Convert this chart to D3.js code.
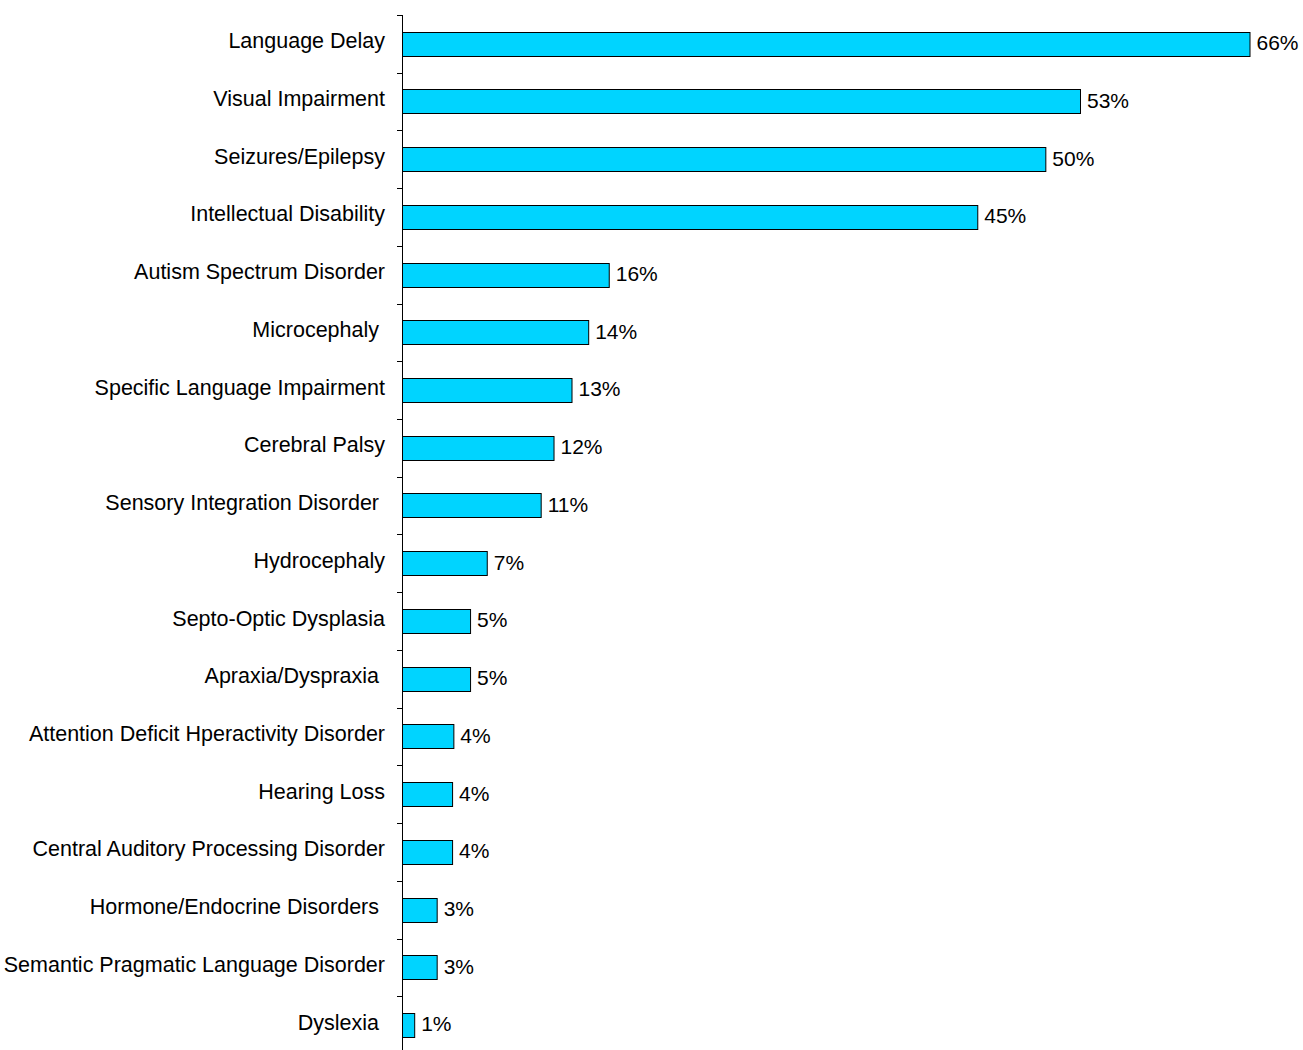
<!DOCTYPE html>
<html>
<head>
<meta charset="utf-8">
<script src="https://cdn.jsdelivr.net/npm/d3@7"></script>
<style>
  html, body { margin: 0; padding: 0; background: #fff; }
  text { font-family: "Liberation Sans", Arial, sans-serif; white-space: pre; }
</style>
</head>
<body>
<div id="chart"></div>
<script>
// categories as written on the original (some carry a trailing space)
const categories = [
  "Language Delay",
  "Visual Impairment",
  "Seizures/Epilepsy",
  "Intellectual Disability",
  "Autism Spectrum Disorder",
  "Microcephaly ",
  "Specific Language Impairment",
  "Cerebral Palsy",
  "Sensory Integration Disorder ",
  "Hydrocephaly",
  "Septo-Optic Dysplasia",
  "Apraxia/Dyspraxia ",
  "Attention Deficit Hperactivity Disorder",
  "Hearing Loss",
  "Central Auditory Processing Disorder",
  "Hormone/Endocrine Disorders ",
  "Semantic Pragmatic Language Disorder",
  "Dyslexia "
];
// percent values
const values = [66.0, 52.8, 50.1, 44.8, 16.1, 14.5, 13.2, 11.8, 10.8, 6.6, 5.3, 5.3, 4.0, 3.9, 3.9, 2.7, 2.7, 0.95];
// printed labels
const labels = ["66%", "53%", "50%", "45%", "16%", "14%", "13%", "12%", "11%", "7%", "5%", "5%", "4%", "4%", "4%", "3%", "3%", "1%"];

const width = 1303, height = 1050;
const axisX = 402, plotTop = 15, step = 57.72;

const svg = d3.select("#chart").append("svg")
  .attr("width", width)
  .attr("height", height);

const x = d3.scaleLinear().domain([0, 66]).range([axisX, 1249.5]);
const y = d3.scaleBand()
  .domain(categories)
  .range([plotTop, plotTop + step * categories.length])
  .paddingInner(0.58)
  .paddingOuter(0.29);

const data = categories.map((c, i) => ({ name: c, value: values[i], label: labels[i] }));

// bars
svg.append("g")
  .selectAll("rect")
  .data(data)
  .join("rect")
  .attr("x", x(0) + 0.5)
  .attr("y", d => Math.round(y(d.name)) + 0.5)
  .attr("width", d => x(d.value) - x(0))
  .attr("height", Math.round(y.bandwidth()))
  .attr("fill", "#00D4FF")
  .attr("stroke", "#000")
  .attr("stroke-width", 1);

// value labels
svg.append("g")
  .selectAll("text")
  .data(data)
  .join("text")
  .attr("x", d => x(d.value) + 7)
  .attr("y", d => y(d.name) + y.bandwidth() / 2)
  .attr("dy", "0.3em")
  .attr("font-size", 21)
  .attr("fill", "#000")
  .text(d => d.label);

// category labels
svg.append("g")
  .selectAll("text")
  .data(data)
  .join("text")
  .attr("x", axisX - 17)
  .attr("y", d => y(d.name) + y.bandwidth() / 2 - 2)
  .attr("dy", "0.3em")
  .attr("text-anchor", "end")
  .attr("font-size", 21.5)
  .attr("fill", "#000")
  .text(d => d.name);

// vertical axis with ticks between categories
const tickYs = d3.range(categories.length + 1).map(k => y.range()[0] + k * y.step());
const axis = svg.append("g").attr("stroke", "#000").attr("stroke-width", 1);
axis.append("line")
  .attr("x1", axisX + 0.5).attr("x2", axisX + 0.5)
  .attr("y1", plotTop).attr("y2", height);
axis.selectAll(".tick")
  .data(tickYs)
  .join("line")
  .attr("class", "tick")
  .attr("x1", axisX - 5).attr("x2", axisX + 0.5)
  .attr("y1", d => Math.round(d) + 0.5)
  .attr("y2", d => Math.round(d) + 0.5);
</script>
</body>
</html>
